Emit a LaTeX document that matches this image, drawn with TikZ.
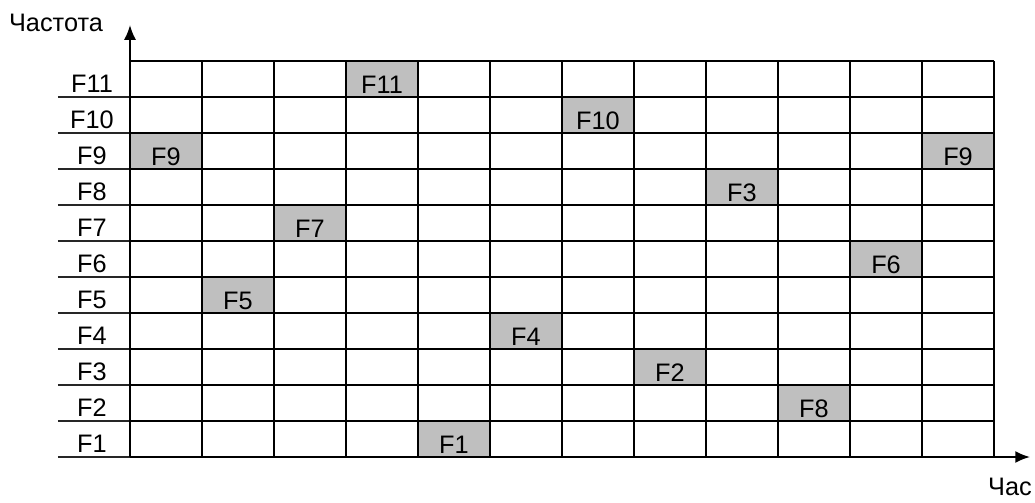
\documentclass[tikz,border=0pt]{standalone}
\usepackage{fontspec}
\setmainfont{Liberation Sans}
\usetikzlibrary{arrows.meta}

\begin{document}
\begin{tikzpicture}[>={Latex[length=10.5pt,width=8.5pt]}, every node/.style={font=\fontsize{18}{21}\selectfont, inner sep=0pt}]
  \useasboundingbox (-3.25,-1.125) rectangle (22.625,11.425);
  \tikzset{slot/.style={fill=gray!50}, cellgrid/.style={line width=1.3pt}, tick/.style={line width=0.8pt, black!85}}

  % occupied time slots
  \foreach \c/\r/\t in {0/8/F9, 1/4/F5, 2/6/F7, 3/10/F11, 4/0/F1, 5/3/F4, 6/9/F10, 7/2/F2, 8/7/F3, 9/1/F8, 10/5/F6, 11/8/F9} {
    \fill[slot] (1.8*\c,0.9*\r) rectangle ++(1.8,0.9);
    \node[anchor=base] (s\c) at (1.8*\c+0.9,0.9*\r+0.09) {\t};
  }

  % frequency labels
  \foreach \r in {1,...,11} {
    \node[anchor=base] (f\r) at (-0.95,0.9*\r-0.78) {F\r};
    \draw[tick] (-1.8,0.9*\r-0.9) -- (0,0.9*\r-0.9);
  }

  \draw[cellgrid] (0,0) grid[xstep=1.8,ystep=0.9] (21.6,9.9);

  % axes
  \coordinate (o) at (0,0);
  \coordinate (ytip) at (0,10.8);
  \coordinate (xtip) at (22.5,0);
  \draw[cellgrid, ->] (o) -- (ytip);
  \draw[cellgrid, ->] (o) -- (xtip);
  \node (ylab) at (-1.85,10.85) {Частота};
  \node (xlab) at (22.0,-0.75) {Час};
\end{tikzpicture}
\end{document}
